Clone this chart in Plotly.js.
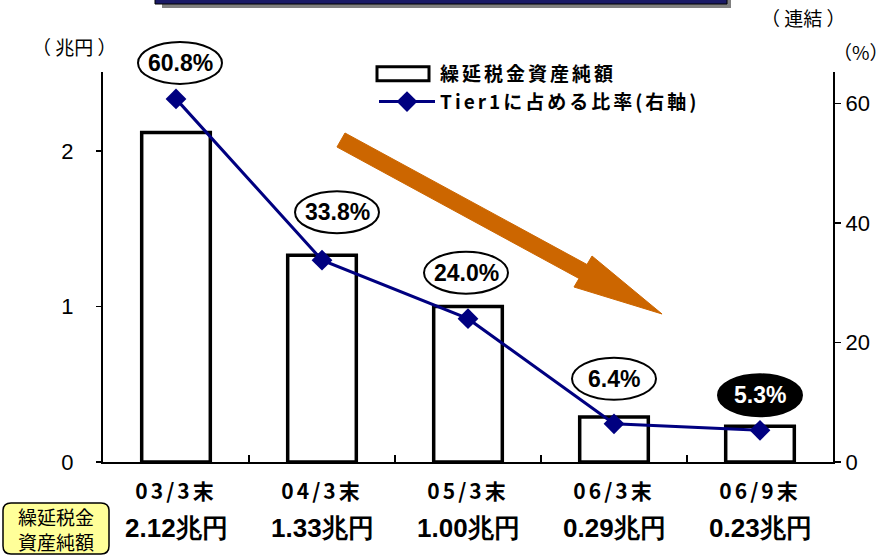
<!DOCTYPE html>
<html><head><meta charset="utf-8">
<script src="https://cdn.plot.ly/plotly-3.0.1.min.js"></script>
<style>
html,body{margin:0;padding:0;background:#fff;}
#chart{width:890px;height:556px;}
.xtick text{letter-spacing:3px;}
.legendtext{letter-spacing:3px;}
</style>
</head><body>
<div id="chart"></div>
<script>
// ---- data ----
var categories = ['03/3末', '04/3末', '05/3末', '06/3末', '06/9末'];
var dtaValues = [2.12, 1.33, 1.00, 0.29, 0.23];          // 兆円
var dtaLabels = ['2.12兆円', '1.33兆円', '1.00兆円', '0.29兆円', '0.23兆円'];
var tier1Ratio = [60.8, 33.8, 24.0, 6.4, 5.3];           // %
var leftTicks = [0, 1, 2];
var rightTicks = [0, 20, 40, 60];
var barName = '繰延税金資産純額';
var lineName = 'Tier1に占める比率(右軸)';

// ---- layout geometry (pixels) ----
var W = 890, H = 556;
var L = 103, R = 833, T = 72, B = 462;
var yMax = 2.51, y2Max = 65.3;
function px(x){ return (x - L) / (R - L); }
function py(y){ return (B - y) / (B - T); }

var jp = '"Noto Sans CJK JP", "Noto Sans", sans-serif';
var narrow = '"Liberation Sans Narrow", "Liberation Sans", Arial, sans-serif';
var arialB = '"Liberation Sans", Arial, sans-serif';

var traces = [
  {
    type: 'bar', name: barName, x: categories, y: dtaValues,
    width: 0.47,
    marker: {color: '#ffffff', line: {color: '#000000', width: 3.5}},
    yaxis: 'y', hoverinfo: 'skip'
  },
  {
    type: 'scatter', mode: 'lines+markers', name: lineName,
    x: categories, y: tier1Ratio, yaxis: 'y2',
    line: {color: '#000080', width: 3},
    marker: {symbol: 'diamond', size: 16, color: '#000080'},
    hoverinfo: 'skip'
  }
];

// label offsets (pixels) of ellipses relative to each marker
var lblDx = [4, 15, -2, 0, 0];
var lblDy = [36, 48, 46, 45, 35];
var ellW = 84, ellH = 42;

var shapes = [];
var annotations = [];
var n = categories.length;

for (var i = 0; i < n; i++) {
  var dark = (i === n - 1);
  var ax = (i + 0.5) / n, ay = tier1Ratio[i] / y2Max;
  shapes.push({
    type: 'circle', xref: 'paper', yref: 'paper',
    xsizemode: 'pixel', ysizemode: 'pixel',
    xanchor: ax, yanchor: ay,
    x0: lblDx[i] - ellW/2, x1: lblDx[i] + ellW/2,
    y0: lblDy[i] - ellH/2, y1: lblDy[i] + ellH/2,
    fillcolor: dark ? '#000000' : '#ffffff',
    line: {color: '#000000', width: 2}
  });
  annotations.push({
    xref: 'x', yref: 'y2', x: i, y: tier1Ratio[i],
    xanchor: 'center', yanchor: 'middle',
    xshift: lblDx[i], yshift: lblDy[i],
    text: tier1Ratio[i].toFixed(1) + '%', showarrow: false,
    font: {family: arialB, size: 23, weight: 'bold', color: dark ? '#ffffff' : '#000000'}
  });
  annotations.push({
    xref: 'x', yref: 'paper', x: i, y: py(528),
    text: dtaLabels[i], showarrow: false, xanchor: 'center', yanchor: 'middle',
    font: {family: narrow, size: 26, weight: 'bold', color: '#000000'}
  });
}

// orange arrow
var arrowPts = [[345,133],[587,264.5],[592,256],[662,314],[574,287],[579,278.5],[337,147]];
var pth = arrowPts.map(function(p, k){ return (k ? 'L' : 'M') + px(p[0]).toFixed(4) + ',' + py(p[1]).toFixed(4); }).join(' ') + ' Z';
shapes.push({type: 'path', xref: 'paper', yref: 'paper', path: pth,
  fillcolor: '#CC6600', line: {color: '#CC6600', width: 1}});

// banner at top (cut-off title box) with shadow
shapes.push({type: 'rect', xref: 'paper', yref: 'paper',
  x0: px(162), x1: px(731), y0: py(8), y1: py(-2),
  fillcolor: '#808080', line: {width: 0}});
shapes.push({type: 'rect', xref: 'paper', yref: 'paper',
  x0: px(155), x1: px(727), y0: py(4), y1: py(-2),
  fillcolor: '#1a1a66', line: {color: '#000000', width: 1}});

// yellow rounded box bottom-left
var bx0 = 3, bx1 = 109, by0 = 503, by1 = 554, rr = 8;
var bp = 'M' + px(bx0 + rr) + ',' + py(by0) +
  ' L' + px(bx1 - rr) + ',' + py(by0) +
  ' Q' + px(bx1) + ',' + py(by0) + ' ' + px(bx1) + ',' + py(by0 + rr) +
  ' L' + px(bx1) + ',' + py(by1 - rr) +
  ' Q' + px(bx1) + ',' + py(by1) + ' ' + px(bx1 - rr) + ',' + py(by1) +
  ' L' + px(bx0 + rr) + ',' + py(by1) +
  ' Q' + px(bx0) + ',' + py(by1) + ' ' + px(bx0) + ',' + py(by1 - rr) +
  ' L' + px(bx0) + ',' + py(by0 + rr) +
  ' Q' + px(bx0) + ',' + py(by0) + ' ' + px(bx0 + rr) + ',' + py(by0) + ' Z';
shapes.push({type: 'path', xref: 'paper', yref: 'paper', path: bp,
  fillcolor: '#FFFF99', line: {color: '#000000', width: 1.5}});
annotations.push({xref: 'paper', yref: 'paper', x: px(56), y: py(528.5),
  xanchor: 'center', yanchor: 'middle',
  text: '繰延税金<br>資産純額', showarrow: false,
  font: {family: jp, size: 19, color: '#000000'}});

// unit labels
annotations.push({xref: 'paper', yref: 'paper', x: px(74), y: py(46),
  xanchor: 'center', yanchor: 'middle',
  text: '（ 兆円 ）', showarrow: false, font: {family: jp, size: 19, color: '#000000'}});
annotations.push({xref: 'paper', yref: 'paper', x: px(803), y: py(17),
  xanchor: 'center', yanchor: 'middle',
  text: '（ 連結 ）', showarrow: false, font: {family: jp, size: 19, color: '#000000'}});
annotations.push({xref: 'paper', yref: 'paper', x: px(861), y: py(52),
  xanchor: 'center', yanchor: 'middle',
  text: '（%）', showarrow: false, font: {family: jp, size: 19, color: '#000000'}});

var layout = {
  width: W, height: H,
  margin: {l: L, r: W - R, t: T, b: H - B, pad: 0},
  paper_bgcolor: '#ffffff', plot_bgcolor: '#ffffff',
  showlegend: true,
  legend: {
    x: px(374), y: py(55), xanchor: 'left', yanchor: 'top',
    bgcolor: 'rgba(0,0,0,0)', borderwidth: 0,
    font: {family: jp, size: 19, weight: 'bold', color: '#000000'},
    itemwidth: 56, tracegroupgap: 8
  },
  xaxis: {
    type: 'category', categoryorder: 'array', categoryarray: categories,
    range: [-0.5, n - 0.5],
    showline: true, linecolor: '#000000', linewidth: 2,
    ticks: 'inside', tickson: 'boundaries', ticklen: 7, tickwidth: 1.5, tickcolor: '#000000',
    ticklabelstandoff: 10,
    tickfont: {family: jp, size: 21, weight: 'bold', color: '#000000'},
    showgrid: false, zeroline: false, fixedrange: true
  },
  yaxis: {
    range: [0, yMax], tickvals: leftTicks, ticktext: leftTicks.map(String),
    showline: true, linecolor: '#000000', linewidth: 2,
    ticks: 'outside', ticklen: 5, tickwidth: 1.5, tickcolor: '#000000',
    ticklabelstandoff: 18,
    tickfont: {family: narrow, size: 22, color: '#000000'},
    showgrid: false, zeroline: false, fixedrange: true
  },
  yaxis2: {
    overlaying: 'y', side: 'right',
    range: [0, y2Max], tickvals: rightTicks, ticktext: rightTicks.map(String),
    showline: true, linecolor: '#000000', linewidth: 2,
    ticks: 'outside', ticklen: 6, tickwidth: 1.5, tickcolor: '#000000',
    tickfont: {family: narrow, size: 22, color: '#000000'},
    showgrid: false, zeroline: false, fixedrange: true
  },
  shapes: shapes,
  annotations: annotations
};

Plotly.newPlot('chart', traces, layout, {displayModeBar: false, staticPlot: true}).then(function(gd){
  // widen the bar legend swatch to a flat rectangle like the original
  var items = gd.querySelectorAll('.legend .traces');
  if (items.length) {
    var p = items[0].querySelector('.legendpoints path');
    if (p) { p.setAttribute('d', 'M-30,-7H22V7H-30Z'); p.style.strokeWidth = '3px'; }
  }
});
</script>
</body></html>
